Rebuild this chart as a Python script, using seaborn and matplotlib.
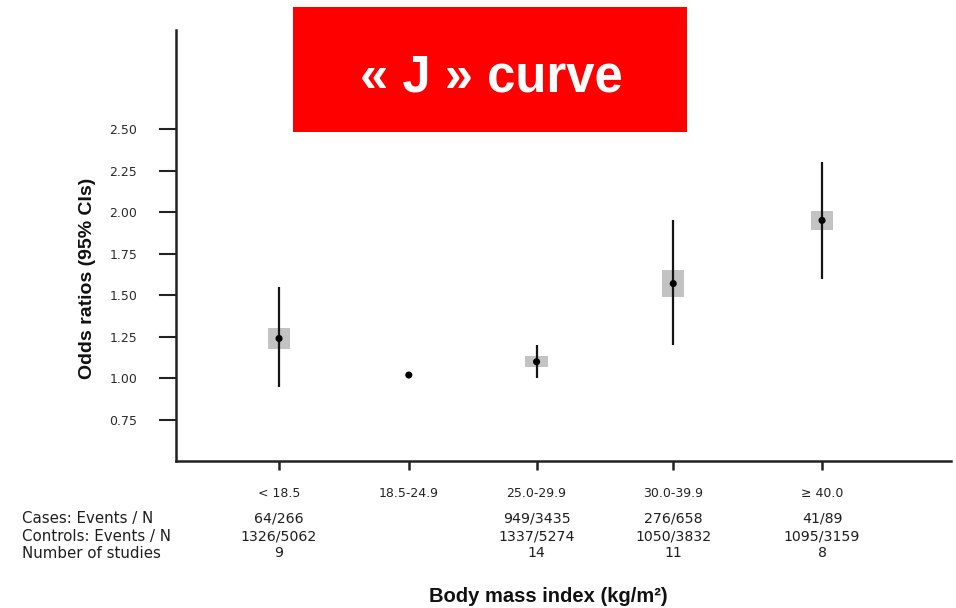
import numpy as np
import pandas as pd
import matplotlib
matplotlib.use("Agg")
import matplotlib.pyplot as plt
from matplotlib.patches import Rectangle
import seaborn as sns

# ---- data ----
categories = ["< 18.5", "18.5-24.9", "25.0-29.9", "30.0-39.9", "\u2265 40.0"]
odds_ratio = [1.24, 1.02, 1.10, 1.57, 1.95]
ci_low = [0.95, np.nan, 1.00, 1.20, 1.60]
ci_high = [1.55, np.nan, 1.20, 1.95, 2.30]
box_height = [0.126, 0.0, 0.066, 0.162, 0.114]   # weight boxes (in OR units)
cases = ["64/266", "", "949/3435", "276/658", "41/89"]
controls = ["1326/5062", "", "1337/5274", "1050/3832", "1095/3159"]
n_studies = ["9", "", "14", "11", "8"]
row_labels = ["Cases: Events / N", "Controls: Events / N", "Number of studies"]
y_ticks = [0.75, 1.00, 1.25, 1.50, 1.75, 2.00, 2.25, 2.50]

# layout positions of the categories along x
x_pos = [1.0, 1.956, 2.897, 3.904, 5.0]

sns.set_theme(style="white")
plt.rcParams["font.family"] = ["DejaVu Sans"]

W, H = 956, 608
fig = plt.figure(figsize=(W / 100, H / 100), dpi=100)
fig.patch.set_facecolor("white")
ax = fig.add_axes([176 / W, (H - 461) / H, (951 - 176) / W, (461 - 30) / H])
ax.set_facecolor("white")

df = pd.DataFrame({"x": x_pos, "or": odds_ratio, "lo": ci_low, "hi": ci_high,
                   "h": box_height})

# weight boxes
ax.bar(df["x"], df["h"], width=0.165, bottom=df["or"] - df["h"] / 2,
       color="#c3c3c3", edgecolor="none", zorder=2)
# confidence intervals
valid = df.dropna()
ax.vlines(valid["x"], valid["lo"], valid["hi"], color="#151515", lw=1.6, zorder=3)
# point estimates
sns.scatterplot(data=df, x="x", y="or", ax=ax, color="black", s=26,
                edgecolor="none", zorder=4, legend=False)

ax.set_xlim(0.241, 5.95)
ax.set_ylim(0.503, 3.095)
ax.set_yticks(y_ticks)
ax.set_yticklabels([f"{v:.2f}" for v in y_ticks], fontsize=9, color="#2a2a2a")
ax.set_xticks(x_pos)
ax.set_xticklabels(categories, fontsize=9, color="#222222")
ax.tick_params(axis="y", direction="out", length=12, width=1.5, color="#222222",
               pad=16, left=True)
ax.tick_params(axis="x", direction="out", length=6.5, width=1.8, color="#222222",
               pad=12, bottom=True)
for side in ["top", "right"]:
    ax.spines[side].set_visible(False)
for side in ["left", "bottom"]:
    ax.spines[side].set_color("#222222")
    ax.spines[side].set_linewidth(1.8)
ax.set_xlabel("")
ax.set_ylabel("")

# axis titles
fig.text(548 / W, 1 - 597 / H, "Body mass index (kg/m\u00b2)", ha="center", va="center",
         fontsize=14.5, fontweight="bold", family=["Liberation Sans", "DejaVu Sans"],
         color="#111111")
fig.text(87 / W, 1 - 278 / H, "Odds ratios (95% CIs)", ha="center", va="center",
         rotation=90, fontsize=14, fontweight="bold",
         family=["Liberation Sans", "DejaVu Sans"], color="#111111")

# table under the axis
row_y = [519, 536, 553]
rows = [cases, controls, n_studies]
blend = matplotlib.transforms.blended_transform_factory(ax.transData, fig.transFigure)
for lab, yp, vals in zip(row_labels, row_y, rows):
    fig.text(22 / W, 1 - yp / H, lab, ha="left", va="center", fontsize=10.8,
             color="#1e1e1e")
    for xv, v in zip(x_pos, vals):
        if v:
            ax.text(xv, 1 - yp / H, v, ha="center", va="center", fontsize=10.2,
                    color="#1e1e1e", transform=blend)

# red title box
fig.add_artist(Rectangle((293 / W, 1 - 132 / H), (687 - 293) / W, (132 - 7) / H,
                         transform=fig.transFigure, facecolor="#fe0000",
                         edgecolor="none", zorder=5))
fig.text(491 / W, 1 - 91 / H, "\u00ab J \u00bb curve", ha="center", va="baseline",
         fontsize=36.5, fontweight="bold", color="white", zorder=6,
         family=["Liberation Sans", "DejaVu Sans"])

fig.savefig("out.png", dpi=100, facecolor="white")
